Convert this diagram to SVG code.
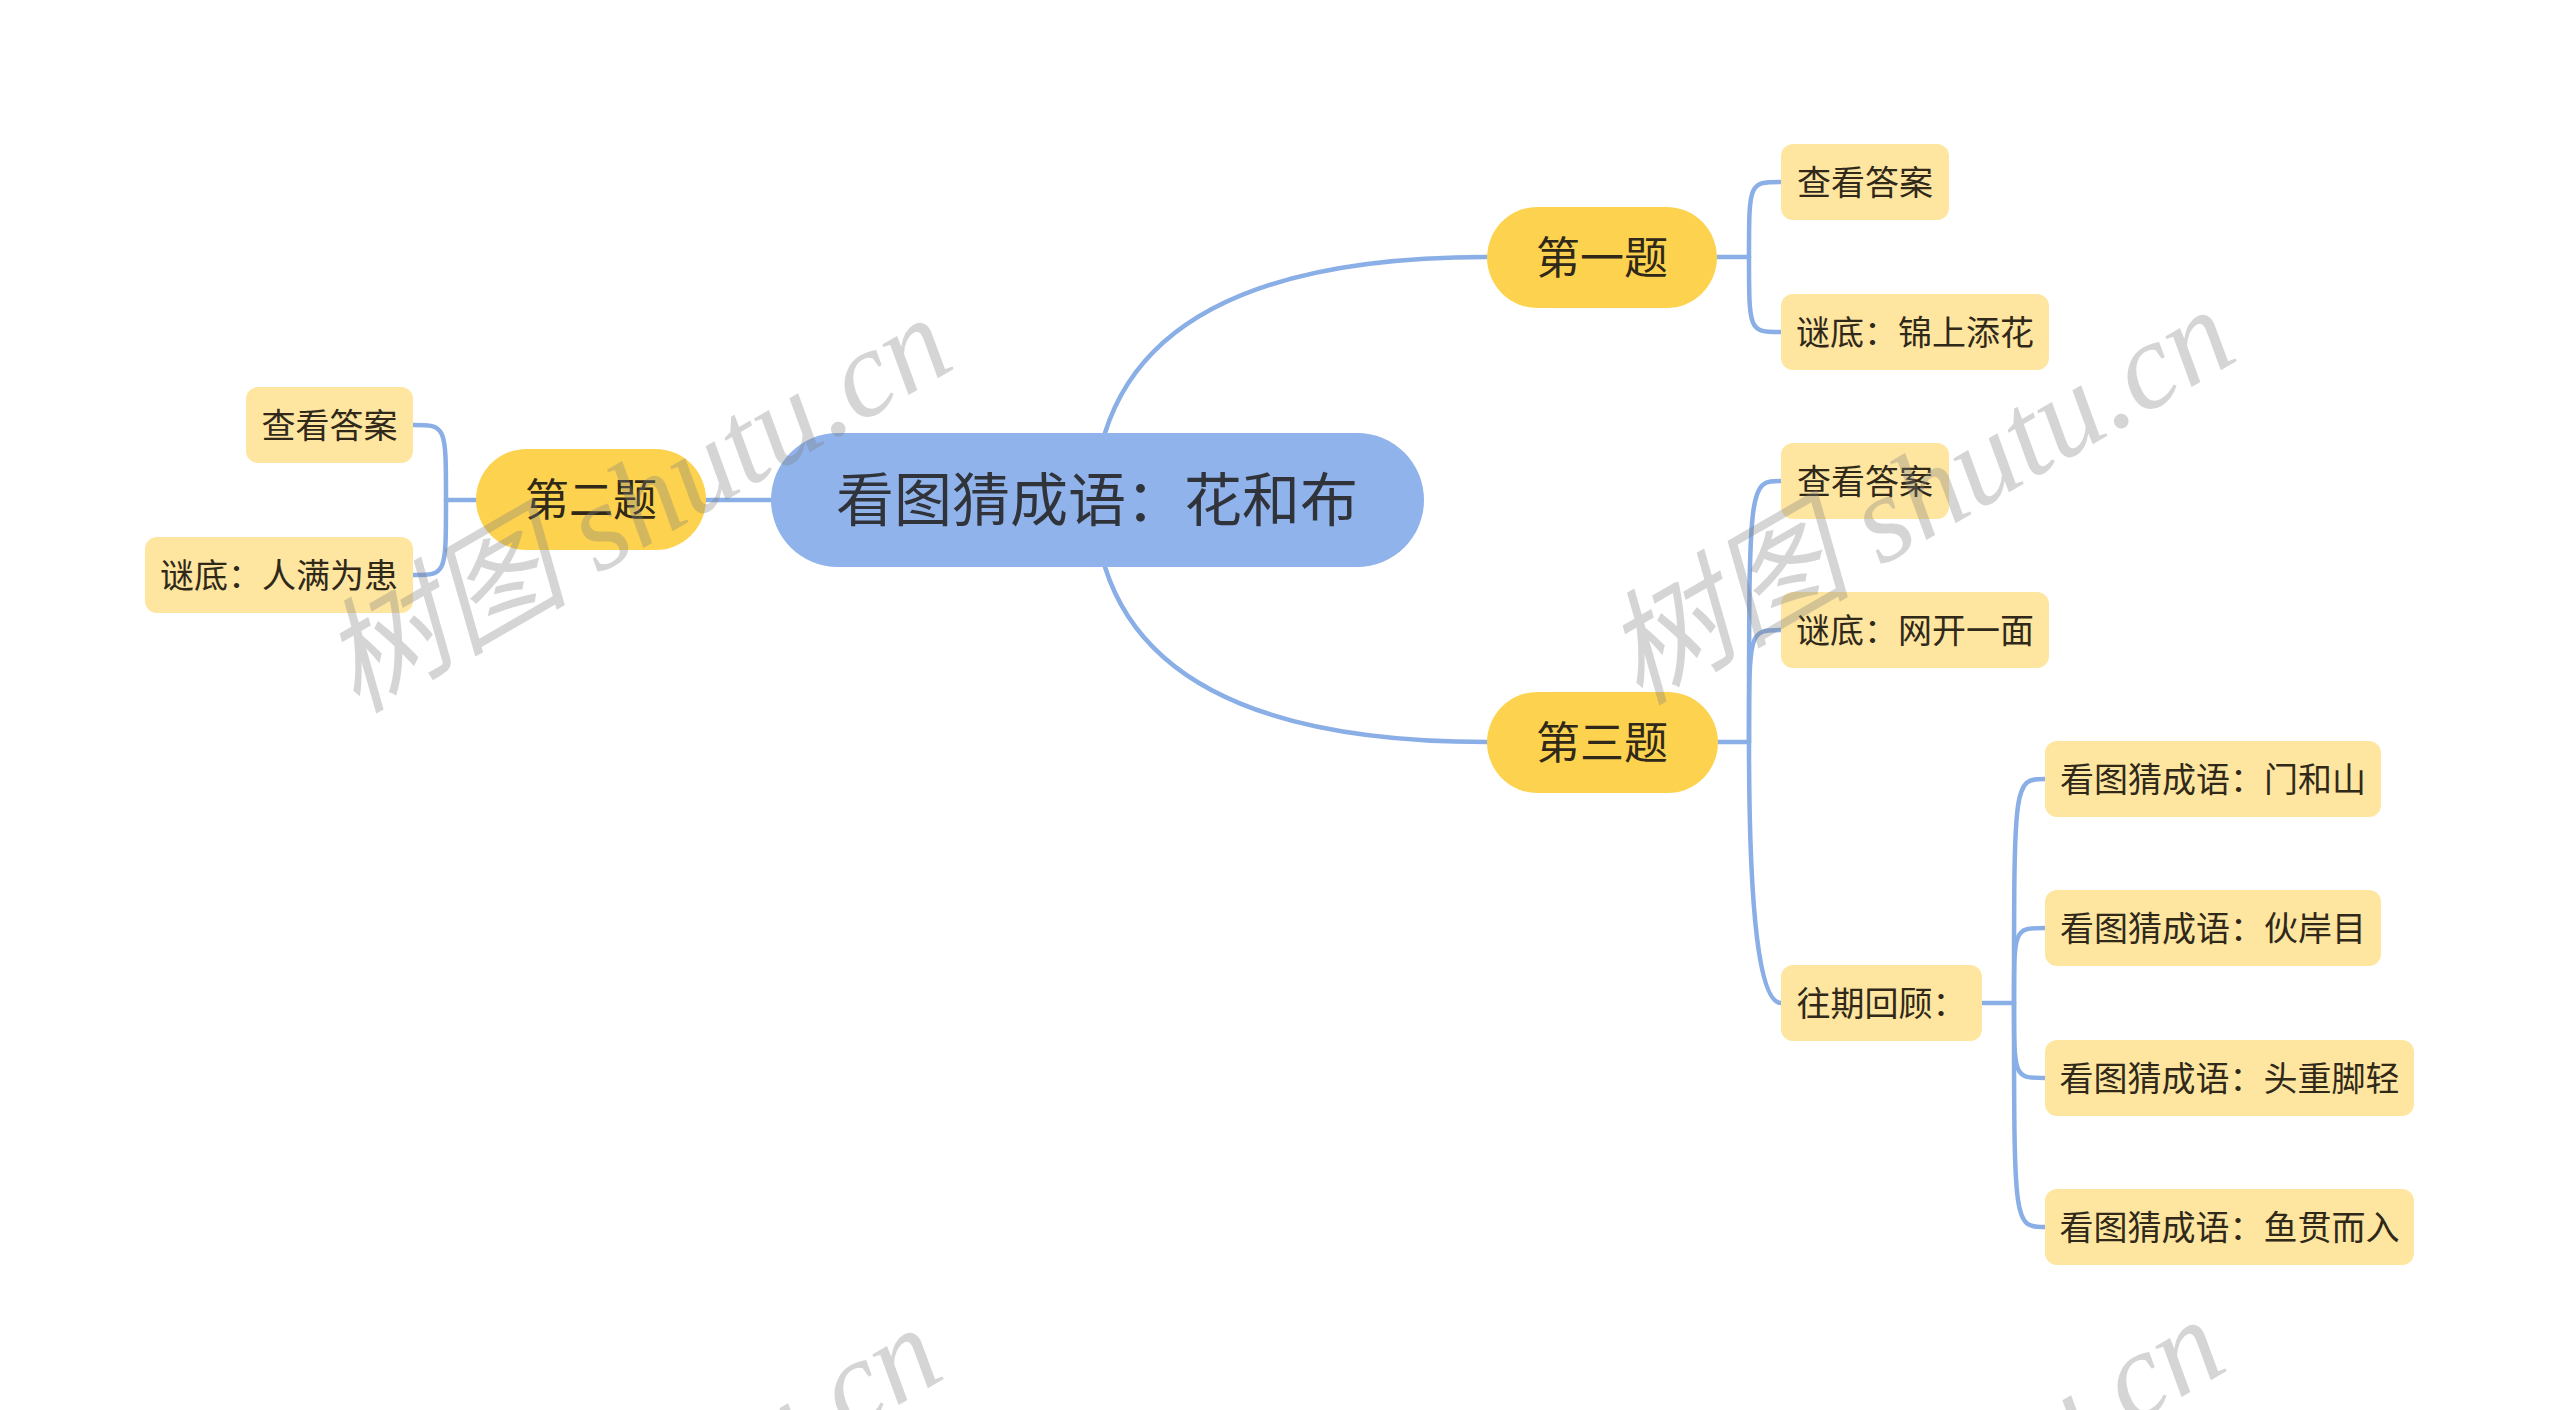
<svg xmlns="http://www.w3.org/2000/svg" width="2560" height="1410" viewBox="0 0 2560 1410">
<style>
.bg{fill:#ffffff}
.line{fill:none;stroke:#8AAEE6;stroke-width:4.5;stroke-linecap:round}
.root rect{fill:#8FB3EA}
.root text{font-family:"Noto Sans CJK SC","Noto Sans",sans-serif;font-size:58px;fill:#30333a;text-anchor:middle}
.main rect{fill:#FDD24F}
.main text{font-family:"Noto Sans CJK SC","Noto Sans",sans-serif;font-size:44px;fill:#30291a;text-anchor:middle}
.sub rect{fill:#FEE6A0}
.sub text{font-family:"Noto Sans CJK SC","Noto Sans",sans-serif;font-size:34px;fill:#30291a;text-anchor:middle}
.wm{font-family:"Liberation Serif","Noto Sans CJK SC",serif;font-style:italic;font-size:124px;fill:#808080;fill-opacity:0.33}
</style>
<rect class="bg" x="0" y="0" width="2560" height="1410"/>

<g id="connectors">
  <path class="line" d="M771,500 L706,500"/>
  <path class="line" d="M1105,433 Q1160,257 1487,257"/>
  <path class="line" d="M1105,567 Q1160,742 1487,742"/>
  <path class="line" d="M476,500 L446,500"/>
  <path class="line" d="M446,500 C446,425 446,425 413,425"/>
  <path class="line" d="M446,500 C446,575 446,575 413,575"/>
  <path class="line" d="M1717,257 L1749,257"/>
  <path class="line" d="M1749,257 C1749,182 1749,182 1781,182"/>
  <path class="line" d="M1749,257 C1749,332 1749,332 1781,332"/>
  <path class="line" d="M1718,742 L1749,742"/>
  <path class="line" d="M1749,742 C1749,481 1749,481 1781,481"/>
  <path class="line" d="M1749,742 C1749,630 1749,630 1781,630"/>
  <path class="line" d="M1749,742 Q1749,1003 1781,1003"/>
  <path class="line" d="M1982,1003 L2014,1003"/>
  <path class="line" d="M2014,1003 C2014,779 2014,779 2045,779"/>
  <path class="line" d="M2014,1003 C2014,928 2014,928 2045,928"/>
  <path class="line" d="M2014,1003 C2014,1078 2014,1078 2045,1078"/>
  <path class="line" d="M2014,1003 C2014,1227 2014,1227 2045,1227"/>
</g>

<g id="root" class="root">
  <rect x="771" y="433" width="653" height="134" rx="67"/>
  <text x="1097" y="521">看图猜成语：花和布</text>
</g>

<g id="q2" class="main">
  <rect x="476" y="449" width="230" height="101" rx="50.5"/>
  <text x="591" y="516">第二题</text>
</g>
<g id="q1" class="main">
  <rect x="1487" y="207" width="230" height="101" rx="50.5"/>
  <text x="1602" y="274">第一题</text>
</g>
<g id="q3" class="main">
  <rect x="1487" y="692" width="231" height="101" rx="50.5"/>
  <text x="1602" y="759">第三题</text>
</g>

<g id="q2-answer" class="sub">
  <rect x="246" y="387" width="167" height="76" rx="12"/>
  <text x="329.5" y="437.5">查看答案</text>
</g>
<g id="q2-solution" class="sub">
  <rect x="145" y="537" width="268" height="76" rx="12"/>
  <text x="279" y="587.5">谜底：人满为患</text>
</g>

<g id="q1-answer" class="sub">
  <rect x="1781" y="144" width="168" height="76" rx="12"/>
  <text x="1865" y="194.5">查看答案</text>
</g>
<g id="q1-solution" class="sub">
  <rect x="1781" y="294" width="268" height="76" rx="12"/>
  <text x="1915" y="344.5">谜底：锦上添花</text>
</g>

<g id="q3-answer" class="sub">
  <rect x="1781" y="443" width="168" height="76" rx="12"/>
  <text x="1865" y="493.5">查看答案</text>
</g>
<g id="q3-solution" class="sub">
  <rect x="1781" y="592" width="268" height="76" rx="12"/>
  <text x="1915" y="642.5">谜底：网开一面</text>
</g>
<g id="q3-review" class="sub">
  <rect x="1781" y="965" width="201" height="76" rx="12"/>
  <text x="1881.5" y="1015.5">往期回顾：</text>
</g>

<g id="review-1" class="sub">
  <rect x="2045" y="741" width="336" height="76" rx="12"/>
  <text x="2213" y="791.5">看图猜成语：门和山</text>
</g>
<g id="review-2" class="sub">
  <rect x="2045" y="890" width="336" height="76" rx="12"/>
  <text x="2213" y="940.5">看图猜成语：伙岸目</text>
</g>
<g id="review-3" class="sub">
  <rect x="2045" y="1040" width="369" height="76" rx="12"/>
  <text x="2229.5" y="1090.5">看图猜成语：头重脚轻</text>
</g>
<g id="review-4" class="sub">
  <rect x="2045" y="1189" width="369" height="76" rx="12"/>
  <text x="2229.5" y="1239.5">看图猜成语：鱼贯而入</text>
</g>

<g id="watermarks">
  <text class="wm" transform="translate(356,714) rotate(-30)">树图 shutu.cn</text>
  <text class="wm" transform="translate(1639,706) rotate(-30)">树图 shutu.cn</text>
  <text class="wm" transform="translate(346,1724) rotate(-30)">树图 shutu.cn</text>
  <text class="wm" transform="translate(1629,1716) rotate(-30)">树图 shutu.cn</text>
</g>
</svg>
